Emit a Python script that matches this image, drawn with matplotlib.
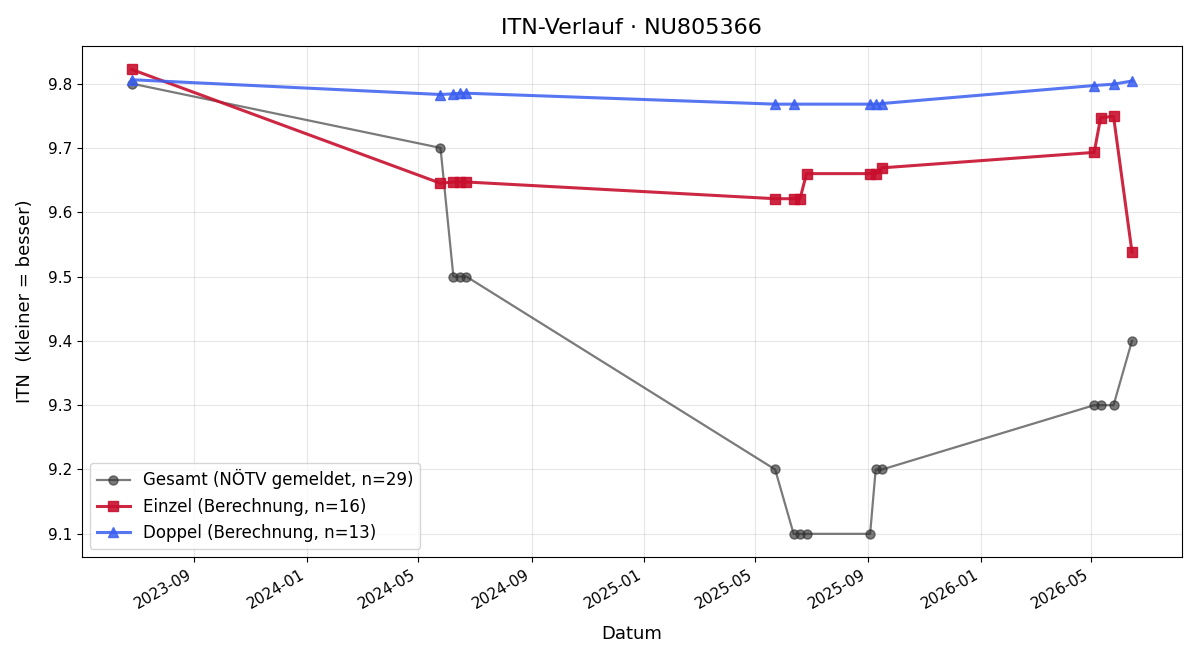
import numpy as np
import pandas as pd
import matplotlib
matplotlib.use("Agg")
import matplotlib.pyplot as plt
import matplotlib.dates as mdates

# Gesamt (reported by NÖTV)
gesamt_dates = ["2023-06-25", "2024-05-25", "2024-06-08", "2024-06-15", "2024-06-22",
                "2025-05-23", "2025-06-12", "2025-06-19", "2025-06-26",
                "2025-09-03", "2025-09-09", "2025-09-16",
                "2026-05-04", "2026-05-11", "2026-05-25", "2026-06-14"]
gesamt_vals = [9.8, 9.7, 9.5, 9.5, 9.5, 9.2, 9.1, 9.1, 9.1, 9.1, 9.2, 9.2,
               9.3, 9.3, 9.3, 9.4]

# Einzel (computed)
einzel_dates = gesamt_dates
einzel_vals = [9.822, 9.645, 9.647, 9.647, 9.647, 9.621, 9.621, 9.621, 9.660,
               9.660, 9.660, 9.669, 9.693, 9.747, 9.749, 9.538]

# Doppel (computed)
doppel_dates = ["2023-06-25", "2024-05-25", "2024-06-08", "2024-06-15", "2024-06-22",
                "2025-05-23", "2025-06-12", "2025-09-03", "2025-09-09", "2025-09-16",
                "2026-05-04", "2026-05-25", "2026-06-14"]
doppel_vals = [9.806, 9.783, 9.784, 9.785, 9.785, 9.768, 9.768, 9.768, 9.768,
               9.769, 9.797, 9.799, 9.804]

gd = pd.to_datetime(gesamt_dates)
ed = pd.to_datetime(einzel_dates)
dd = pd.to_datetime(doppel_dates)

fig, ax = plt.subplots(figsize=(12, 6.6), dpi=100)

ax.plot(gd, gesamt_vals, marker="o", color="#333333", alpha=0.65, lw=1.6, ms=6.5,
        label="Gesamt (NÖTV gemeldet, n=29)")
ax.plot(ed, einzel_vals, marker="s", color="#c8102e", alpha=0.9, lw=2.2, ms=7,
        label="Einzel (Berechnung, n=16)")
ax.plot(dd, doppel_vals, marker="^", color="#3a5ef0", alpha=0.85, lw=2.2, ms=7,
        label="Doppel (Berechnung, n=13)")

ax.set_title("ITN-Verlauf · NU805366", fontsize=16, pad=9)
ax.set_xlabel("Datum", fontsize=13, labelpad=10)
ax.set_ylabel("ITN  (kleiner = besser)", fontsize=13, labelpad=10)
ax.tick_params(labelsize=11)
ax.grid(True, alpha=0.3)

ax.xaxis.set_major_locator(mdates.MonthLocator(bymonth=[1, 5, 9]))
ax.xaxis.set_major_formatter(mdates.DateFormatter("%Y-%m"))
fig.autofmt_xdate()

ax.legend(loc="lower left", fontsize=12)

fig.subplots_adjust(left=0.068, right=0.985, top=0.93, bottom=0.156)
fig.savefig("out.png")
